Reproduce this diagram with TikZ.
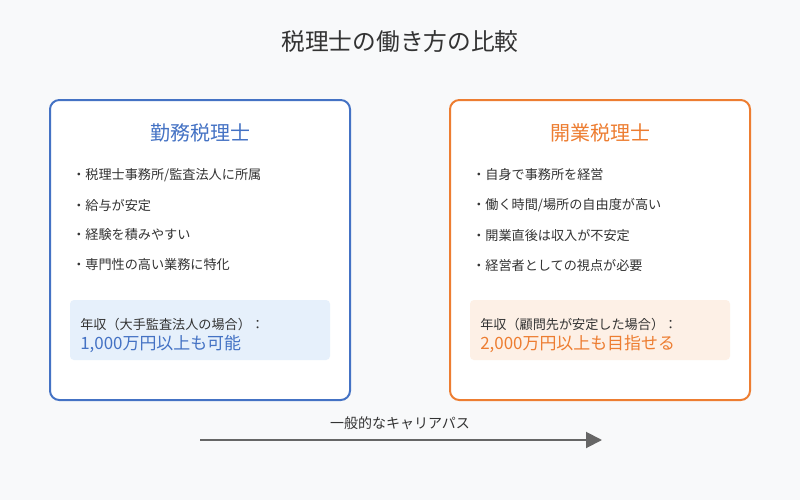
\documentclass[tikz,border=0pt]{standalone}
\usepackage{fontspec}
\setmainfont{Noto Sans CJK JP}
\usetikzlibrary{arrows.meta}
\definecolor{bg}{HTML}{F8F9FA}
\definecolor{blu}{HTML}{4472C4}
\definecolor{org}{HTML}{ED7D31}
\definecolor{lblu}{HTML}{E6F0FB}
\definecolor{lorg}{HTML}{FDF0E6}
\definecolor{txt}{HTML}{333333}
\definecolor{arr}{HTML}{666666}
\begin{document}
\begin{tikzpicture}[x=0.75pt,y=-0.75pt,
  card/.style={draw,line width=1.5pt,rounded corners=7pt,fill=white},
  inner/.style={rounded corners=3pt},
  bul/.style={anchor=west,font=\fontsize{9.85pt}{11pt}\selectfont,text=txt,inner sep=0},
  ttl/.style={font=\fontsize{15pt}{18pt}\selectfont},
  sm/.style={anchor=west,font=\fontsize{9.85pt}{11pt}\selectfont,text=txt,inner sep=0},
  big/.style={anchor=west,font=\fontsize{12.7pt}{15pt}\selectfont,inner sep=0}]
\fill[bg] (0,0) rectangle (800,500);
\useasboundingbox (0,0) rectangle (800,500);
\node[font=\fontsize{17.8pt}{20pt}\selectfont,text=txt] (title) at (400,42) {税理士の働き方の比較};
\node[card,draw=blu,minimum width=225pt,minimum height=225pt] (L) at (200,250) {};
\node[card,draw=org,minimum width=225pt,minimum height=225pt] (R) at (600,250) {};
\node[ttl,text=blu] (lt) at (200,133) {勤務税理士};
\node[ttl,text=org] (rt) at (600,133) {開業税理士};
\node[bul] (l1) at (72,175) {・税理士事務所/監査法人に所属};
\node[bul] (l2) at (72,205) {・給与が安定};
\node[bul] (l3) at (72,235) {・経験を積みやすい};
\node[bul] (l4) at (72,265) {・専門性の高い業務に特化};
\node[bul] (r1) at (472,175) {・自身で事務所を経営};
\node[bul] (r2) at (472,205) {・働く時間/場所の自由度が高い};
\node[bul] (r3) at (472,235) {・開業直後は収入が不安定};
\node[bul] (r4) at (472,265) {・経営者としての視点が必要};
\fill[lblu,inner] (70,300) rectangle (330,360);
\fill[lorg,inner] (470,300) rectangle (730,360);
\node[sm] (ls) at (80,325) {年収（大手監査法人の場合）：};
\node[big,text=blu] (lb) at (80,344) {1,000万円以上も可能};
\node[sm] (rs) at (480,325) {年収（顧問先が安定した場合）：};
\node[big,text=org] (rb) at (480,344) {2,000万円以上も目指せる};
\coordinate (a1) at (200,440);
\coordinate (a2) at (602,440);
\draw[arr,line width=1.5pt,-{Triangle[length=12pt,width=12pt]}] (a1) -- (a2);
\node[font=\fontsize{10.5pt}{12pt}\selectfont,text=txt] (al) at (400,423) {一般的なキャリアパス};
\end{tikzpicture}
\end{document}
